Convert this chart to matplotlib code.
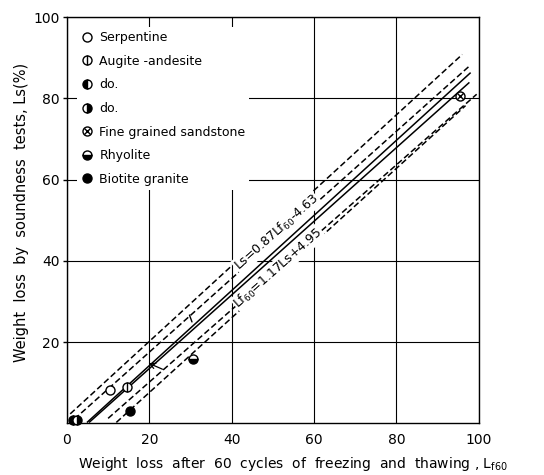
import matplotlib
matplotlib.use("Agg")
import matplotlib.pyplot as plt
from matplotlib.lines import Line2D


# rock types, in legend order
rocks = ["Serpentine", "Augite -andesite", "do.", "do.",
         "Fine grained sandstone", "Rhyolite", "Biotite granite"]
# weight loss after 60 freeze/thaw cycles (Lf60) and by soundness test (Ls), %
lf60 = [10.5, 14.5, 1.4, 2.5, 95.4, 30.6, 15.3]
ls = [8.3, 8.9, 0.9, 0.9, 80.5, 15.9, 3.0]
kinds = ["open", "vbar", "left", "right", "cross", "bottom", "filled"]

# regression lines as drawn on the chart (start, end)
reg1_x = [5.0, 97.9]
reg1_y = [0.3, 86.2]
reg2_x = [5.5, 97.6]
reg2_y = [0.3, 83.8]
# dashed limit lines
lim_up1_x = [0.8, 96.0]
lim_up1_y = [2.3, 90.8]
lim_up2_x = [1.8, 97.9]
lim_up2_y = [1.0, 88.1]
lim_lo1_x = [10.0, 99.5]
lim_lo1_y = [1.2, 81.0]
lim_lo2_x = [12.0, 96.8]
lim_lo2_y = [0.2, 78.2]

ticks = [0, 20, 40, 60, 80, 100]


def marker_styles(kind):
        base = dict(marker='o', ms=6.5, mec='k', mew=1.0, ls='none')
        if kind == "open":
                return [dict(base, mfc='white')]
        if kind == "vbar":
                return [dict(base, mfc='white'),
                        dict(base, marker='|', ms=6.5, mew=1.0)]
        if kind == "cross":
                return [dict(base, mfc='white'),
                        dict(base, marker='x', ms=4.0, mew=1.0)]
        if kind in ("left", "right", "bottom"):
                return [dict(base, mfc='k', fillstyle=kind, markerfacecoloralt='white')]
        return [dict(base, mfc='k')]


def create_img(save_file):
        fig = plt.figure(figsize=(5.44, 4.75), dpi=100)
        ax = fig.add_axes([0.123, 0.109, 0.757, 0.855])

        ax.set_xlim(0, 100)
        ax.set_ylim(0, 100)
        ax.set_xticks(ticks)
        ax.set_yticks(ticks[1:])
        ax.grid(True, color='k', lw=0.8)
        ax.set_axisbelow(True)
        for s in ax.spines.values():
                s.set_linewidth(1.0)
        ax.tick_params(axis='x', length=0, pad=7, labelsize=10)
        ax.tick_params(axis='y', direction='out', length=3, width=1, pad=2, labelsize=10)

        # regression and limit lines
        ax.plot(reg1_x, reg1_y, color='k', lw=1.1)
        ax.plot(reg2_x, reg2_y, color='k', lw=1.1)
        for xs, ys in [(lim_up1_x, lim_up1_y), (lim_up2_x, lim_up2_y),
                       (lim_lo1_x, lim_lo1_y), (lim_lo2_x, lim_lo2_y)]:
                ax.plot(xs, ys, color='k', lw=1.1, dashes=(4, 2))

        # equations along the lines
        lab = dict(fontsize=9, rotation=41.5, ha='center', va='center', zorder=4,
                   bbox=dict(facecolor='white', edgecolor='none', pad=0.5))
        ax.text(50.9, 46.9, r"Ls=0.87Lf$_{\mathregular{60}}$-4.63", **lab)
        ax.text(51.3, 38.2, r"Lf$_{\mathregular{60}}$=1.17Ls+4.95", **lab)

        # small leaders to the lines
        ax.annotate("", xy=(30.6, 24.3), xytext=(29.6, 27.3),
                    arrowprops=dict(arrowstyle='-', lw=1.0, color='k',
                                    connectionstyle="angle,angleA=0,angleB=110,rad=0"))
        ax.annotate("", xy=(19.8, 14.8), xytext=(23.2, 13.3),
                    arrowprops=dict(arrowstyle='->', lw=0.9, color='k',
                                    shrinkA=0, shrinkB=0))

        # points and legend
        handles = []
        for x, y, k in zip(lf60, ls, kinds):
                parts = []
                for st in marker_styles(k):
                        ax.plot([x], [y], clip_on=False, zorder=6, **st)
                        parts.append(Line2D([], [], **st))
                handles.append(tuple(parts))
        leg = ax.legend(handles, rocks, loc='upper left', bbox_to_anchor=(0.024, 0.975),
                        borderaxespad=0, fontsize=9, handlelength=1.0, handletextpad=0.5,
                        labelspacing=0.85, borderpad=0.3, frameon=True, fancybox=False,
                        facecolor='white', edgecolor='none', framealpha=1)
        leg.set_zorder(7)

        ax.set_xlabel(r"Weight  loss  after  60  cycles  of  freezing  and  thawing , L$_{\mathregular{f60}}$",
                      fontsize=10)
        ax.xaxis.set_label_coords(0.55, -0.078)
        ax.set_ylabel("Weight  loss  by  soundness  tests, Ls(%)", fontsize=10.5)
        ax.yaxis.set_label_coords(-0.092, 0.52)

        plt.savefig(save_file, dpi=100)
        plt.close(fig)


if __name__ == "__main__":
        create_img("out.png")
